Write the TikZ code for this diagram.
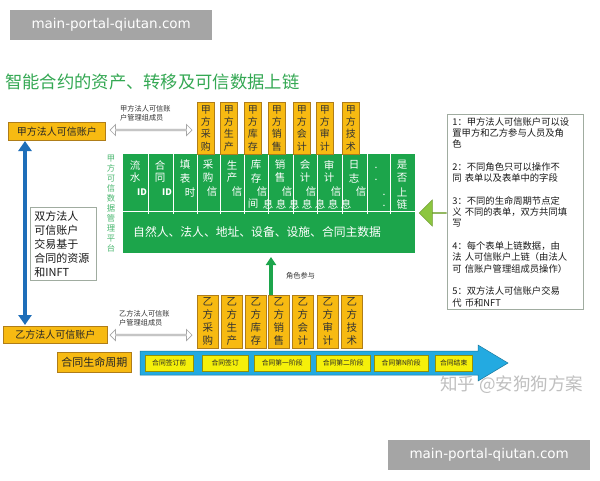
\documentclass[tikz,border=0pt]{standalone}
\usepackage{fontspec}
\setmainfont{Noto Sans CJK SC}
\newfontfamily\wmfont{DejaVu Sans}
\usetikzlibrary{arrows.meta,shapes.arrows,calc}
\definecolor{gold}{RGB}{247,186,18}
\definecolor{goldedge}{RGB}{175,125,25}
\definecolor{gblock}{RGB}{28,165,75}
\definecolor{titlegreen}{RGB}{52,168,83}
\definecolor{blueline}{RGB}{30,110,185}
\definecolor{cyanarrow}{RGB}{35,170,225}
\definecolor{ybox}{RGB}{245,240,10}
\definecolor{lgreen}{RGB}{140,198,63}
\definecolor{boxedge}{RGB}{160,172,160}
\definecolor{wmgray}{RGB}{165,165,165}
\begin{document}
\begin{tikzpicture}[x=1pt,y=-1pt,
  acct/.style={draw=goldedge, fill=gold, line width=0.8pt, inner sep=0pt, text=black!85, font=\fontsize{10}{12}\selectfont, anchor=north west},
  vbox/.style={draw=goldedge, fill=gold, line width=0.5pt, inner sep=0pt, align=center, text=black!80, anchor=north west},
  gtxt/.style={text=white, inner sep=0pt, font=\fontsize{10.5}{12}\selectfont},
  mini/.style={inner sep=0pt, align=left, text=black!80, font=\fontsize{7.2}{8.8}\selectfont, anchor=north west},
  hollow/.style={double arrow, draw=gray!70, fill=white, line width=0.7pt, minimum height=82pt, minimum width=11pt, double arrow head extend=2.5pt, inner sep=0pt},
  stage/.style={fill=ybox, draw=ybox!60!black, line width=0.4pt, inner sep=0pt, minimum height=16pt, anchor=north west, text=black!85, font=\fontsize{6.8}{8}\selectfont},
  note/.style={draw=boxedge, line width=0.8pt, fill=white, inner xsep=5pt, inner ysep=3pt, anchor=north west, align=left, text=black!90}
]
\useasboundingbox (0,0) rectangle (600,480);
\fill[white] (0,0) rectangle (600,480);

% watermarks
\node[fill=wmgray, minimum width=202pt, minimum height=30pt, inner sep=0pt, anchor=north west, text=white, font=\wmfont\fontsize{13.5}{14}\selectfont] (wm1) at (10,10) {main-portal-qiutan.com};
\node[fill=wmgray, minimum width=202pt, minimum height=30pt, inner sep=0pt, anchor=north west, text=white, font=\wmfont\fontsize{13.5}{14}\selectfont] (wm2) at (388,440) {main-portal-qiutan.com};

% title
\node[anchor=west, inner sep=0pt, text=titlegreen, font=\fontsize{17.3}{18}\selectfont] (title) at (5,82) {智能合约的资产、转移及可信数据上链};

% accounts
\node[acct, minimum width=97pt, minimum height=18pt] (ja) at (8,122) {甲方法人可信账户};
\node[acct, minimum width=104pt, minimum height=17pt] (ya) at (3,326) {乙方法人可信账户};

% hollow double arrows
\node[hollow] (ha) at (151,130) {};
\node[hollow] (hb) at (151,335) {};
\node[mini] (hal) at (120,105) {甲方法人可信账\\户管理组成员};
\node[mini] (hbl) at (119,310) {乙方法人可信账\\户管理组成员};

% blue vertical double arrow
\coordinate (bt) at (25,141);
\coordinate (bb) at (25,325);
\draw[blueline, line width=4.5pt, {Triangle[width=13pt,length=10pt]}-{Triangle[width=13pt,length=10pt]}] (bt) -- (bb);

% left note
\node[note, minimum width=66pt, minimum height=73pt, text width=58pt, inner xsep=4pt, font=\fontsize{11}{14}\selectfont] (lt) at (30,207) {双方法人\\可信账户\\交易基于\\合同的资源\\和INFT};

% green platform
\node[fill=gblock, minimum width=292pt, minimum height=99pt, inner sep=0pt, anchor=north west] (gp) at (123,154) {};
\foreach \x in {148,173,197,220,244,268,293,317,342,367,390}
  \draw[white, line width=0.8pt] (\x,154) -- (\x,214);
\draw[white, line width=0.8pt] (123,211) -- (415,211);

\foreach \x/\c in {135/流,160/合,185/填,208/采,232/生,256/库,280/销,305/会,329/审,354/日,402/是}
  \node[gtxt] (ra\x) at (\x,165) {\c};
\foreach \x/\c in {135/水,160/同,185/表,208/购,232/产,256/存,280/售,305/计,329/计,354/志,402/否}
  \node[gtxt] (rb\x) at (\x,178) {\c};
\foreach \x/\c in {190/时,212/信,237/信,262/信,287/信,311/信,336/信,361/信,402/上}
  \node[gtxt] (rc\x) at (\x,192) {\c};
\node[gtxt, font=\fontsize{9}{10}\bfseries] (id1) at (142,192) {ID};
\node[gtxt, font=\fontsize{9}{10}\bfseries] (id2) at (167,192) {ID};
\foreach \x/\c in {253/间,268/息,281/息,294/息,307/息,320/息,333/息,346/息,402/链}
  \node[gtxt] (rd\x) at (\x,204) {\c};
\node[gtxt] (d1) at (376,168) {.};
\node[gtxt] (d2) at (376,180) {.};
\node[gtxt] (d3) at (384,195) {.};
\node[gtxt] (d4) at (384,206) {.};
\node[gtxt, anchor=west, font=\fontsize{11.8}{13}\selectfont] (gm) at (133,232) {自然人、法人、地址、设备、设施、合同主数据};
\node[inner sep=0pt, align=center, text=gblock!80!white, font=\fontsize{8.3}{10}\selectfont] (vl) at (111,204) {甲\\方\\可\\信\\数\\据\\管\\理\\平\\台};

% top boxes
\foreach \x/\a/\b [count=\i] in {197/采/购, 220/生/产, 244/库/存, 268/销/售, 293/会/计, 316/审/计, 342/技/术}
  \node[vbox, minimum width=17pt, minimum height=52pt, font=\fontsize{10}{12.4}\selectfont] (j\i) at (\x,102) {甲\\方\\\a\\\b};

% bottom boxes
\foreach \x/\a/\b [count=\i] in {197/采/购, 221/生/产, 245/库/存, 268/销/售, 292/会/计, 317/审/计, 341/技/术}
  \node[vbox, minimum width=21pt, minimum height=53pt, font=\fontsize{10.5}{13}\selectfont] (y\i) at (\x,295) {乙\\方\\\a\\\b};

% green up arrow
\coordinate (ga) at (271,295);
\coordinate (gb) at (271,257);
\draw[gblock, line width=4pt, -{Triangle[width=10pt,length=8pt]}] (ga) -- (gb);
\node[mini, anchor=west] (rl) at (286,276) {角色参与};

% right hollow green arrow
\node[single arrow, shape border rotate=180, fill=lgreen, draw=lgreen!80!black, line width=0.5pt, minimum height=27pt, minimum width=26pt, single arrow head extend=7pt, inner sep=0pt] (la) at (433,213) {};

% notes
\node[note, minimum width=136pt, text width=126pt, font=\fontsize{9.3}{11.3}\selectfont] (nb) at (447,114) {1：甲方法人可信账户可以设\\
置甲方和乙方参与人员及角\\
色\\[11.3pt]
2：不同角色只可以操作不\\
同 表单以及表单中的字段\\[11.3pt]
3：不同的生命周期节点定\\
义 不同的表单，双方共同填\\
写\\[11.3pt]
4：每个表单上链数据，由\\
法 人可信账户上链（由法人\\
可 信账户管理组成员操作）\\[11.3pt]
5：双方法人可信账户交易\\
代 币和NFT};

% timeline
\node[acct, minimum width=74pt, minimum height=20pt, font=\fontsize{11}{12}\selectfont] (lc) at (57,352) {合同生命周期};
\filldraw[fill=cyanarrow, draw=cyanarrow!70!black, line width=0.5pt] (140,351) -- (478,351) -- (478,345) -- (508,363) -- (478,381) -- (478,375) -- (140,375) -- cycle;
\foreach \x/\w/\lbl [count=\i] in {145/48/合同签订前, 202/46/合同签订, 254/56/合同第一阶段, 316/54/合同第二阶段, 374/54/合同第N阶段, 435/37/合同结束}
  \node[stage, minimum width=\w pt] (s\i) at (\x,355) {\lbl};

\node[inner sep=0pt, anchor=west, text=gray!50, font=\fontsize{17.5}{18}\selectfont] (zh) at (440,385) {知乎 @安狗狗方案};
\end{tikzpicture}
\end{document}
